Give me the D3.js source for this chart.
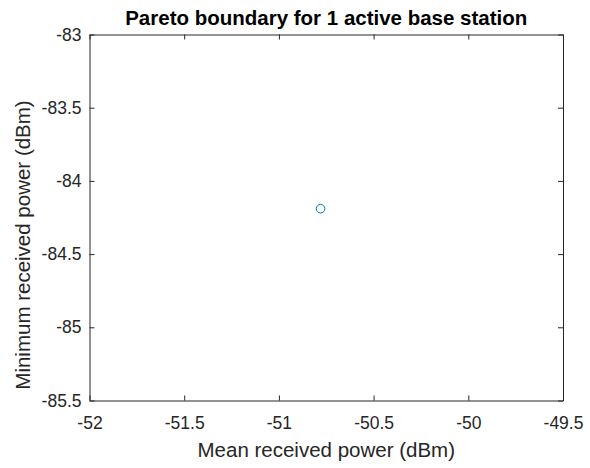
<!DOCTYPE html>
<html>
<head>
<meta charset="utf-8">
<script src="https://cdn.jsdelivr.net/npm/d3@7"></script>
<style>
  html, body { margin: 0; padding: 0; background: #fff; }
  svg { display: block; font-family: "Liberation Sans", Arial, Helvetica, sans-serif; }
</style>
</head>
<body>
<svg id="chart" width="590" height="468"></svg>
<script>
// Pareto boundary points: mean vs. minimum received power (dBm)
const meanPower = [-50.78];
const minPower = [-84.19];

const xTicks = [-52, -51.5, -51, -50.5, -50, -49.5];
const yTicks = [-83, -83.5, -84, -84.5, -85, -85.5];
const xDomain = [-52, -49.5];
const yDomain = [-85.5, -83];

const titleText = "Pareto boundary for 1 active base station";
const xLabelText = "Mean received power (dBm)";
const yLabelText = "Minimum received power (dBm)";

const W = 590, H = 468;
const margin = { left: 89.5, right: 590 - 563, top: 34.5, bottom: 468 - 400.5 };
const axisColor = "#262626";
const markerColor = "#0072BD";
const tickLen = 5;
const tickFont = 17.5;
const labelFont = 20.5;

const svg = d3.select("#chart");
const x = d3.scaleLinear().domain(xDomain).range([margin.left, W - margin.right]);
const y = d3.scaleLinear().domain(yDomain).range([H - margin.bottom, margin.top]);

const fmt = d => String(d);

// Bottom axis (ticks inward) with labels
const gxb = svg.append("g").attr("transform", `translate(0,${y.range()[0]})`)
  .call(d3.axisBottom(x).tickValues(xTicks).tickSizeInner(-tickLen).tickSizeOuter(0).tickPadding(16).tickFormat(fmt));
// Top axis: ticks only
const gxt = svg.append("g").attr("transform", `translate(0,${y.range()[1]})`)
  .call(d3.axisTop(x).tickValues(xTicks).tickSizeInner(-tickLen).tickSizeOuter(0).tickFormat(""));
// Left axis with labels
const gyl = svg.append("g").attr("transform", `translate(${x.range()[0]},0)`)
  .call(d3.axisLeft(y).tickValues(yTicks).tickSizeInner(-tickLen).tickSizeOuter(0).tickPadding(8).tickFormat(fmt));
// Right axis: ticks only
const gyr = svg.append("g").attr("transform", `translate(${x.range()[1]},0)`)
  .call(d3.axisRight(y).tickValues(yTicks).tickSizeInner(-tickLen).tickSizeOuter(0).tickFormat(""));

[gxb, gxt, gyl, gyr].forEach(g => {
  g.selectAll("path.domain").attr("stroke", axisColor).attr("stroke-width", 1);
  g.selectAll(".tick line").attr("stroke", axisColor).attr("stroke-width", 1);
  g.selectAll(".tick text").attr("fill", axisColor).attr("font-size", tickFont)
    .attr("font-family", "'Liberation Sans', Arial, Helvetica, sans-serif");
});

// Data markers (open circles)
svg.append("g").selectAll("circle")
  .data(meanPower.map((m, i) => [m, minPower[i]]))
  .join("circle")
  .attr("cx", d => x(d[0]))
  .attr("cy", d => y(d[1]))
  .attr("r", 4.3)
  .attr("fill", "none")
  .attr("stroke", markerColor)
  .attr("stroke-width", 1);

// Title
svg.append("text")
  .attr("x", (x.range()[0] + x.range()[1]) / 2)
  .attr("y", 25)
  .attr("text-anchor", "middle")
  .attr("font-weight", "bold")
  .attr("font-size", labelFont)
  .attr("fill", "#000")
  .text(titleText);

// Axis labels
svg.append("text")
  .attr("x", (x.range()[0] + x.range()[1]) / 2)
  .attr("y", 456.5)
  .attr("text-anchor", "middle")
  .attr("font-size", labelFont)
  .attr("fill", axisColor)
  .text(xLabelText);

svg.append("text")
  .attr("transform", `translate(30,245) rotate(-90)`)
  .attr("text-anchor", "middle")
  .attr("font-size", labelFont)
  .attr("fill", axisColor)
  .text(yLabelText);
</script>
</body>
</html>
